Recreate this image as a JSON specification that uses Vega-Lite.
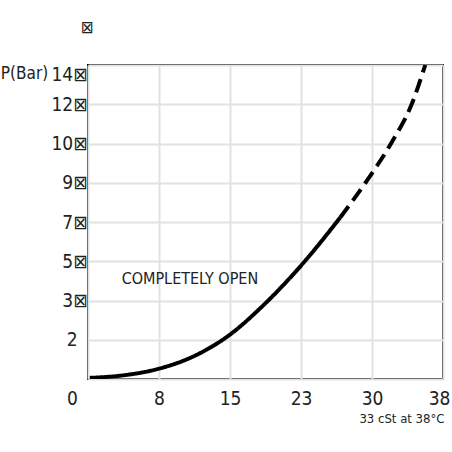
{
  "$schema": "https://vega.github.io/schema/vega-lite/v6.json",
  "width": 355,
  "height": 314,
  "autosize": "none",
  "padding": {"left": 88, "top": 65, "right": 9, "bottom": 73},
  "background": "white",
  "config": {
    "view": {"stroke": "black", "strokeWidth": 2},
    "font": "Liberation Sans Narrow, DejaVu Sans Condensed, sans-serif"
  },
  "title": {
    "text": "⊠",
    "anchor": "start",
    "frame": "group",
    "dx": -7,
    "offset": 27,
    "fontSize": 17,
    "fontWeight": "normal",
    "color": "#222",
    "font": "DejaVu Sans Condensed"
  },
  "datasets": {
    "curve": [
      {"x": 0.2, "y": 0.05, "part": "solid"},
      {"x": 3.5, "y": 0.15, "part": "solid"},
      {"x": 7.5, "y": 0.45, "part": "solid"},
      {"x": 11.5, "y": 1.05, "part": "solid"},
      {"x": 15.1, "y": 1.95, "part": "solid"},
      {"x": 18.8, "y": 3.3, "part": "solid"},
      {"x": 23.0, "y": 5.15, "part": "solid"},
      {"x": 27.0, "y": 7.2, "part": "solid"},
      {"x": 27.0, "y": 7.2, "part": "dashed"},
      {"x": 29.7, "y": 8.75, "part": "dashed"},
      {"x": 32.5, "y": 10.55, "part": "dashed"},
      {"x": 34.6, "y": 12.2, "part": "dashed"},
      {"x": 36.1, "y": 14.0, "part": "dashed"}
    ],
    "notes": [
      {"x": 3.6, "y": 4.44, "label": "COMPLETELY OPEN"}
    ]
  },
  "layer": [
    {
      "data": {"name": "curve"},
      "mark": {"type": "line", "color": "black", "strokeWidth": 4, "interpolate": "monotone", "clip": true},
      "encoding": {
        "x": {
          "field": "x", "type": "quantitative",
          "scale": {"domain": [0, 38], "nice": false, "zero": false},
          "axis": {
            "values": [0, 7.6, 15.2, 22.8, 30.4, 38],
            "tickCount": 20,
            "labelExpr": "format(datum.value, '.0f')",
            "domain": false,
            "ticks": false,
            "grid": true,
            "gridColor": "#e2e2e2",
            "gridWidth": 2,
            "labelFontSize": 19,
            "labelColor": "#222",
            "labelPadding": 10,
            "labelOverlap": false,
            "labelOffset": {"condition": [{"test": "datum.value == 0", "value": -16}, {"test": "datum.value == 38", "value": -4}], "value": 0},
            "labelFlush": false,
            "title": "33 cSt at 38°C",
            "titleFontSize": 13,
            "titleFontWeight": "normal",
            "titleColor": "#222",
            "titleAnchor": "end",
            "titleAlign": "right",
            "titleBaseline": "top",
            "titleX": 356,
            "titleY": 33
          }
        },
        "y": {
          "field": "y", "type": "quantitative",
          "scale": {"domain": [0, 14], "nice": false, "zero": false},
          "axis": {
            "values": [0, 1.75, 3.5, 5.25, 7, 8.75, 10.5, 12.25, 14],
            "tickCount": 20,
            "labelExpr": "['', '2', '3⊠', '5⊠', '7⊠', '9⊠', '10⊠', '12⊠', '14⊠'][round(datum.value / 1.75)]",
            "domain": false,
            "ticks": false,
            "grid": true,
            "gridColor": "#e2e2e2",
            "gridWidth": 2,
            "labelFontSize": 19,
            "labelColor": "#222",
            "labelPadding": {"condition": {"test": "datum.value == 1.75", "value": 11}, "value": 1},
            "labelOverlap": false,
            "labelFlush": true,
            "title": "P(Bar)",
            "titleAngle": 0,
            "titleFontSize": 17,
            "titleFontWeight": "normal",
            "titleColor": "#222",
            "titleAlign": "center",
            "titleBaseline": "middle",
            "titleX": -64,
            "titleY": 8
          }
        },
        "strokeDash": {
          "field": "part", "type": "nominal",
          "scale": {"domain": ["solid", "dashed"], "range": [[1, 0], [14, 7]]},
          "legend": null
        }
      }
    },
    {
      "data": {"name": "notes"},
      "mark": {"type": "text", "align": "left", "baseline": "middle", "fontSize": 16, "color": "#222"},
      "encoding": {
        "x": {"field": "x", "type": "quantitative"},
        "y": {"field": "y", "type": "quantitative"},
        "text": {"field": "label"}
      }
    }
  ]
}
